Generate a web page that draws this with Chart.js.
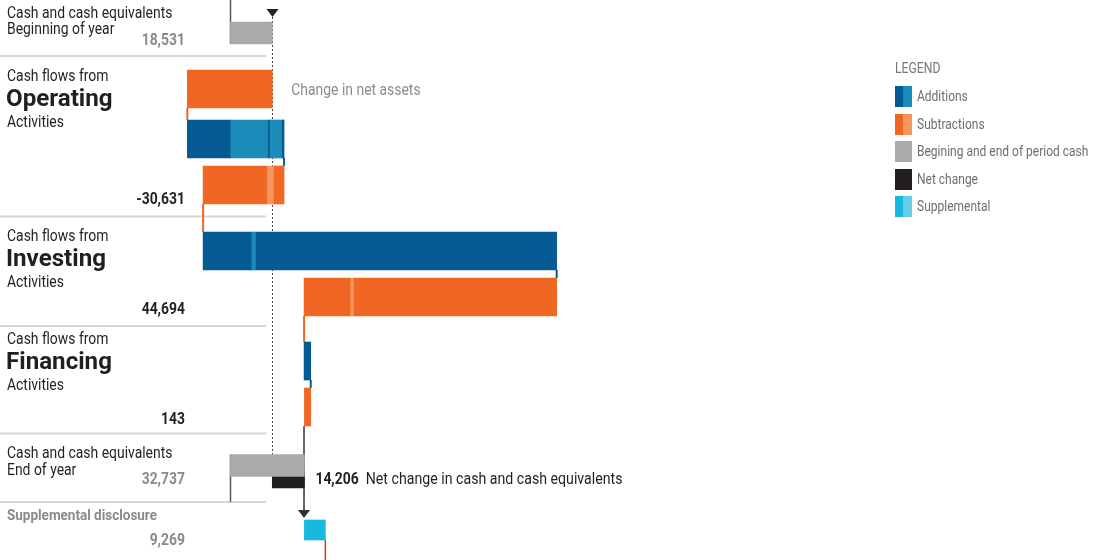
<!DOCTYPE html>
<html>
<head>
<meta charset="utf-8">
<script src="https://cdn.jsdelivr.net/npm/chart.js@4.4.1/dist/chart.umd.min.js"></script>
<style>
  html, body { margin: 0; padding: 0; background: #fff; }
  #wrap { position: relative; width: 1093px; height: 560px; }
</style>
</head>
<body>
<div id="wrap"><canvas id="cash" width="1093" height="560"></canvas></div>
<script>
// cash flow values (thousands)
const beginCash = 18531;
const changeInNetAssets = -37600;
const opAdditions = [18900, 16950, 450, 5750, 750];
const opSubtractions = [4430, 3230, 28171];
const invAdditions = [21250, 2210, 133060];
const invSubtractions = [89715, 1770, 20341];
const finAdditions = [2950];
const finSubtractions = [2807];
const sectionNames = ['Operating', 'Investing', 'Financing'];
const sectionTotals = [-30631, 44694, 143];
const endCash = 32737;
const netChange = 14206;
const supplemental = 9269;
const legendLabels = ['Additions', 'Subtractions', 'Begining and end of period cash', 'Net change', 'Supplemental'];

// colours
const C = {
  blue: '#045a92', blueLt: '#1b8bb9',
  orange: '#ef6722', orangeLt: '#f5955f',
  gray: '#a9aaa9', black: '#231f20',
  cyan: '#17b9df', cyanLt: '#67cde6',
  text: '#231f20', textGray: '#8a8a8a', rule: '#d6d6d6', line: '#555'
};
const legendColors = [[C.blue, C.blueLt], [C.orange, C.orangeLt], [C.gray, C.gray], [C.black, C.black], [C.cyan, C.cyanLt]];

// layout (y axis runs in page px, top = 0)
const ROW = { begin: 33, netAssets: 89, opAdd: 139, opSub: 185, invAdd: 251, invSub: 297,
              finAdd: 361, finSub: 407, end: 465.5, net: 479.5, supp: 530 };
const BAR_H = 38, CASH_H = 22, NET_H = 17, SUPP_H = 20;
const X_MIN = -102000, X_MAX = 381800;
const RULES = [56, 216.5, 326, 433.5, 502];
const SECTION_Y = [81, 241, 344];
const TOTAL_Y = [203.5, 314, 423.5];
const SQ = 0.87;
const FONT = 'Roboto, "Liberation Sans", sans-serif';

// build the waterfall
const addMain = [], addAlt = [], subMain = [], subAlt = [];
const links = [];
let run = beginCash;

function pushSegs(list, row, sign, mainArr, altArr) {
  list.forEach((v, i) => {
    const next = run + sign * v;
    (i % 2 === 0 ? mainArr : altArr).push({ y: ROW[row], x: [run, next] });
    run = next;
  });
}
function link(from, to, color) {
  links.push({ v: run, from: from, to: to, color: color });
}

pushSegs([-changeInNetAssets], 'netAssets', -1, subMain, subAlt); link('netAssets', 'opAdd', C.orange);
pushSegs(opAdditions, 'opAdd', 1, addMain, addAlt); link('opAdd', 'opSub', C.blue);
pushSegs(opSubtractions, 'opSub', -1, subMain, subAlt); link('opSub', 'invAdd', C.orange);
pushSegs(invAdditions, 'invAdd', 1, addMain, addAlt); link('invAdd', 'invSub', C.blue);
pushSegs(invSubtractions, 'invSub', -1, subMain, subAlt); link('invSub', 'finAdd', C.orange);
pushSegs(finAdditions, 'finAdd', 1, addMain, addAlt); link('finAdd', 'finSub', C.blue);
pushSegs(finSubtractions, 'finSub', -1, subMain, subAlt);

const cashBars = [{ y: ROW.begin, x: [0, beginCash] }, { y: ROW.end, x: [0, endCash] }];
const netBars = [{ y: ROW.net, x: [beginCash, beginCash + netChange] }];
const suppBars = [{ y: ROW.supp, x: [endCash, endCash + supplemental] }];

function fmt(n) {
  return (n < 0 ? '-' : '') + Math.abs(n).toLocaleString('en-US');
}

function txt(ctx, s, x, y, size, weight, color, align, sq) {
  const k = sq || SQ;
  ctx.save();
  ctx.font = weight + ' ' + size + 'px ' + FONT;
  ctx.fillStyle = color;
  ctx.textAlign = align || 'left';
  ctx.textBaseline = 'alphabetic';
  ctx.translate(x, y);
  ctx.scale(k, 1);
  ctx.fillText(s, 0, 0);
  const w = ctx.measureText(s).width * k;
  ctx.restore();
  return w;
}

function vline(ctx, x, y0, y1, color, width, dash) {
  ctx.save();
  ctx.strokeStyle = color;
  ctx.lineWidth = width;
  ctx.setLineDash(dash || []);
  ctx.beginPath();
  ctx.moveTo(x, y0);
  ctx.lineTo(x, y1);
  ctx.stroke();
  ctx.restore();
}

function arrowDown(ctx, x, yTip, color) {
  ctx.save();
  ctx.fillStyle = color;
  ctx.beginPath();
  ctx.moveTo(x - 6, yTip - 8);
  ctx.lineTo(x + 6, yTip - 8);
  ctx.lineTo(x, yTip);
  ctx.closePath();
  ctx.fill();
  ctx.restore();
}

const cashPlugin = {
  id: 'cashPlugin',
  beforeDatasetsDraw(chart) {
    const ctx = chart.ctx;
    const xs = chart.scales.x, ys = chart.scales.y;
    const x0 = xs.getPixelForValue(0);
    const xb = Math.round(xs.getPixelForValue(beginCash)) + 0.5;
    const xe = Math.round(xs.getPixelForValue(endCash));

    // separators on the left
    RULES.forEach(y => {
      ctx.save();
      ctx.fillStyle = C.rule;
      ctx.fillRect(0, y - 1, 266, 2);
      ctx.restore();
    });

    // zero markers at the ends of the cash bars
    vline(ctx, Math.round(x0) + 0.5, 0, ys.getPixelForValue(ROW.begin) + CASH_H / 2, C.line, 1.5);
    vline(ctx, Math.round(x0) + 0.5, ys.getPixelForValue(ROW.end) - CASH_H / 2, RULES[4], C.line, 1.5);

    // dotted reference at beginning cash
    vline(ctx, xb, 17, ys.getPixelForValue(ROW.end) - CASH_H / 2, '#444', 1, [2, 2]);
    arrowDown(ctx, xb, 17, '#222');

    // end cash line and arrow to the supplemental bar
    const yFinBottom = ys.getPixelForValue(ROW.finSub) + BAR_H / 2;
    const ySuppTop = ys.getPixelForValue(ROW.supp) - SUPP_H / 2;
    vline(ctx, xe, yFinBottom, ySuppTop - 10, '#666', 2);
    arrowDown(ctx, xe, ySuppTop - 2, '#333');

    // connectors between waterfall bars
    links.forEach(l => {
      const x = xs.getPixelForValue(l.v);
      vline(ctx, x, ys.getPixelForValue(ROW[l.from]) + BAR_H / 2, ys.getPixelForValue(ROW[l.to]) - BAR_H / 2, l.color, 2);
    });

    // supplemental carries on below the frame
    const xs2 = xs.getPixelForValue(endCash + supplemental);
    vline(ctx, xs2, ys.getPixelForValue(ROW.supp) + SUPP_H / 2, chart.height, '#e2341d', 1.5);
  },
  afterDraw(chart) {
    const ctx = chart.ctx;
    const xs = chart.scales.x;

    // beginning of year
    txt(ctx, 'Cash and cash equivalents', 7, 18, 16, 400, C.text);
    txt(ctx, 'Beginning of year', 7, 34, 16, 400, C.text);
    txt(ctx, fmt(beginCash), 185, 44.5, 16, 700, C.textGray, 'right');

    // activity sections
    sectionNames.forEach((name, i) => {
      const y = SECTION_Y[i];
      txt(ctx, 'Cash flows from', 7, y, 16, 400, C.text);
      txt(ctx, name, 6, y + 24.5, 23, 700, C.text, 'left', 1.05);
      txt(ctx, 'Activities', 7, y + 46.3, 16, 400, C.text);
      txt(ctx, fmt(sectionTotals[i]), 185, TOTAL_Y[i], 16, 700, C.text, 'right');
    });

    // end of year
    txt(ctx, 'Cash and cash equivalents', 7, 457.5, 16, 400, C.text);
    txt(ctx, 'End of year', 7, 475, 16, 400, C.text);
    txt(ctx, fmt(endCash), 185, 483.5, 16, 700, C.textGray, 'right');

    // supplemental
    txt(ctx, 'Supplemental disclosure', 7, 519.5, 15.5, 700, C.textGray);
    txt(ctx, fmt(supplemental), 185, 545, 16, 700, C.textGray, 'right');

    // annotations
    txt(ctx, 'Change in net assets', xs.getPixelForValue(beginCash) + 19, 95, 16, 400, '#8c8c8c');
    const xn = xs.getPixelForValue(endCash) + 11;
    const w = txt(ctx, fmt(netChange), xn, 484, 16, 700, C.text);
    txt(ctx, 'Net change in cash and cash equivalents', xn + w + 7, 484, 16.3, 400, C.text);

    // legend
    txt(ctx, 'LEGEND', 895, 73.3, 14, 400, '#777');
    legendLabels.forEach((label, i) => {
      const top = Math.round(86 + i * 27.6);
      ctx.save();
      ctx.fillStyle = legendColors[i][0];
      ctx.fillRect(895, top, 17, 21);
      ctx.fillStyle = legendColors[i][1];
      ctx.fillRect(903, top, 9, 21);
      ctx.restore();
      txt(ctx, label, 917, top + 15, 13.8, 400, '#6e6e6e');
    });
  }
};

function barSet(label, data, color, thick) {
  return { label: label, data: data, backgroundColor: color, barThickness: thick,
           borderWidth: 0, grouped: false, borderSkipped: false };
}

new Chart(document.getElementById('cash'), {
  type: 'bar',
  data: {
    datasets: [
      barSet('Additions', addMain, C.blue, BAR_H),
      barSet('Additions (alt)', addAlt, C.blueLt, BAR_H),
      barSet('Subtractions', subMain, C.orange, BAR_H),
      barSet('Subtractions (alt)', subAlt, C.orangeLt, BAR_H),
      barSet('Begining and end of period cash', cashBars, C.gray, CASH_H),
      barSet('Net change', netBars, C.black, NET_H),
      barSet('Supplemental', suppBars, C.cyan, SUPP_H)
    ]
  },
  options: {
    indexAxis: 'y',
    responsive: false,
    animation: false,
    layout: { padding: 0 },
    plugins: { legend: { display: false }, tooltip: { enabled: false } },
    scales: {
      x: { type: 'linear', display: false, min: X_MIN, max: X_MAX },
      y: { type: 'linear', display: false, min: 0, max: 560, reverse: true, offset: false }
    }
  },
  plugins: [cashPlugin]
});
</script>
</body>
</html>
